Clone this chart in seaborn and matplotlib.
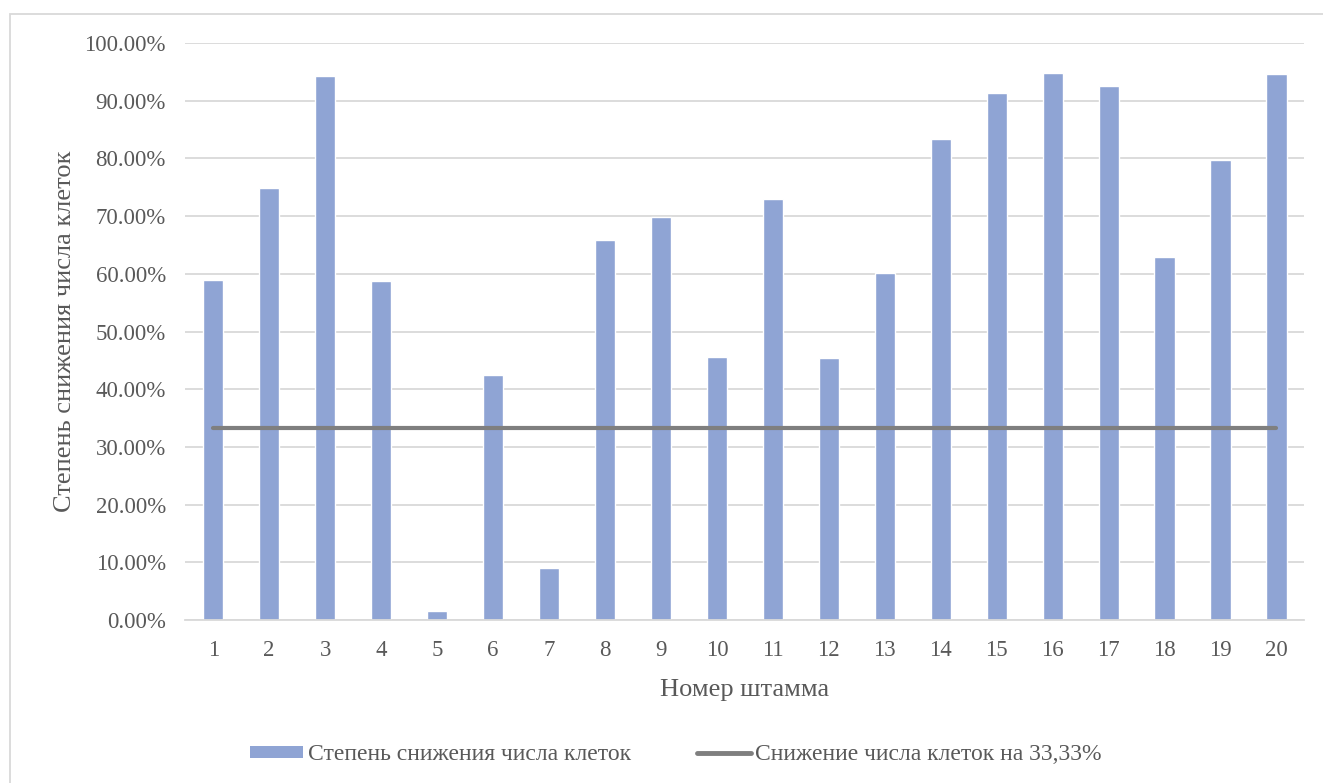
import numpy as np
import pandas as pd
import matplotlib
matplotlib.use("Agg")
import matplotlib.pyplot as plt
import seaborn as sns
from matplotlib.patches import Patch, Rectangle
from matplotlib.lines import Line2D
from matplotlib.ticker import FuncFormatter, MultipleLocator

# data
strains = [str(i) for i in range(1, 21)]
reduction = [58.9, 74.8, 94.3, 58.7, 1.6, 42.4, 9.0, 65.8, 69.8, 45.6,
             72.9, 45.5, 60.2, 83.4, 91.4, 94.8, 92.6, 63.0, 79.8, 94.7]
threshold = [33.33] * len(strains)

bar_label = "Степень снижения числа клеток"
line_label = "Снижение числа клеток на 33,33%"
bar_color = "#8FA4D4"
line_color = "#7F7F7F"
text_color = "#595959"
grid_color = "#D9D9D9"

sns.set_theme(style="white")
plt.rcParams['font.family'] = ['Liberation Serif', 'DejaVu Serif']

df = pd.DataFrame({"strain": strains, "value": reduction})

fig = plt.figure(figsize=(13.23, 7.83), dpi=100)
ax = fig.add_axes([0.140, 0.208, 0.846, 0.737])

sns.barplot(data=df, x="strain", y="value", color=bar_color, width=0.36,
            saturation=1, ax=ax, zorder=2)
ax.plot(np.arange(len(strains)), threshold, color=line_color, lw=3.0,
        solid_capstyle="round", zorder=3)

ax.set_ylim(0, 100)
ax.set_xlim(-0.5, len(strains) - 0.5)
ax.yaxis.set_major_locator(MultipleLocator(10))
ax.yaxis.set_major_formatter(FuncFormatter(lambda v, p: f"{v:.2f}%"))
ax.grid(axis="y", color=grid_color, lw=1.3, zorder=0)
ax.set_axisbelow(True)
for s in ["top", "right", "left"]:
    ax.spines[s].set_visible(False)
ax.spines["bottom"].set_color(grid_color)
ax.spines["bottom"].set_linewidth(1.3)
ax.tick_params(axis="both", length=0, labelsize=16.5, colors=text_color)
ax.tick_params(axis="x", pad=14)
ax.tick_params(axis="y", pad=14)

ax.set_xlabel("Номер штамма", fontsize=19, color=text_color, labelpad=13)
ax.set_ylabel(bar_label, fontsize=19, color=text_color, labelpad=6)

handles = [Patch(facecolor=bar_color, edgecolor="none", label=bar_label),
           Line2D([0], [0], color=line_color, lw=3.5, label=line_label)]
fig.legend(handles=handles, loc="center", bbox_to_anchor=(0.511, 0.036), ncol=2,
           frameon=False, fontsize=17, handlelength=2.25, handleheight=0.45,
           handletextpad=0.2, columnspacing=2.8, labelcolor=text_color)

# outer chart border (cropped at right and bottom)
fig.patches.append(Rectangle((10 / 1323, -0.05), 1.2, (783 - 14) / 783 + 0.05,
                             transform=fig.transFigure, fill=False,
                             edgecolor=grid_color, lw=1.3))

fig.savefig("out.png", dpi=100)
